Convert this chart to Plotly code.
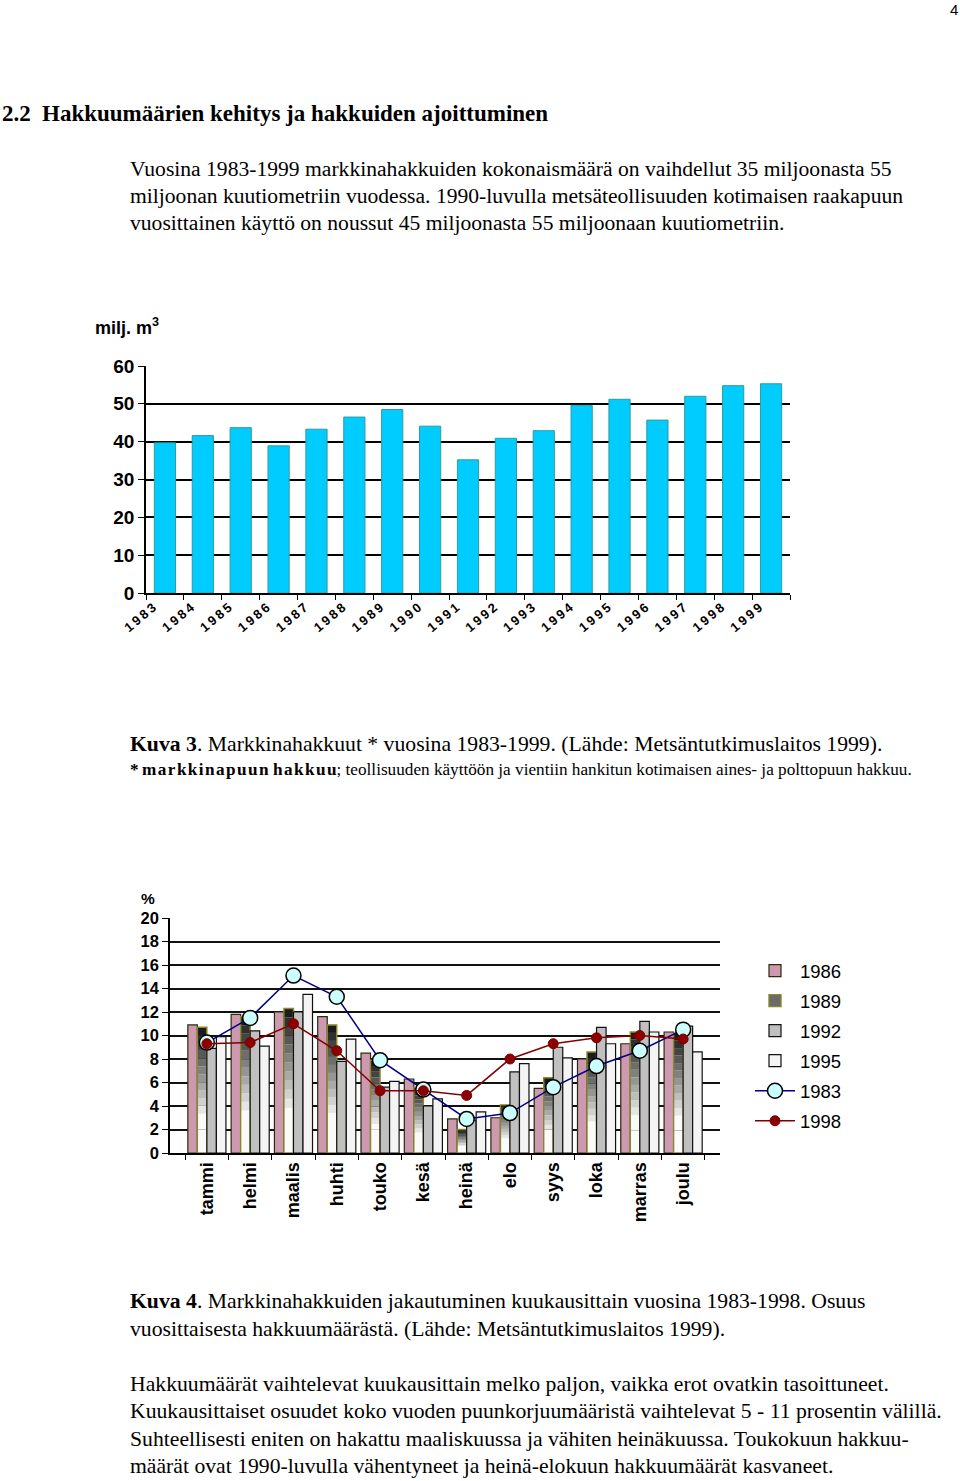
import plotly.graph_objects as go

W, H = 960, 1481

# ---------- data: chart 1 (Kuva 3) ----------
years = [str(y) for y in range(1983, 2000)]
harvest = [39.7, 41.6, 43.7, 38.9, 43.3, 46.5, 48.5, 44.1, 35.2, 40.9,
           42.9, 49.6, 51.2, 45.7, 52.0, 54.8, 55.3]
year_labels = ["\u2009".join(y) for y in years]

# ---------- data: chart 2 (Kuva 4) ----------
months = ["tammi", "helmi", "maalis", "huhti", "touko", "kesä",
          "heinä", "elo", "syys", "loka", "marras", "joulu"]
v1986 = [10.9, 11.8, 12.0, 11.6, 8.5, 6.3, 2.9, 3.0, 5.5, 8.0, 9.3, 10.3]
v1989 = [10.7, 11.6, 12.3, 10.9, 7.9, 5.6, 2.0, 4.1, 6.4, 8.6, 10.3, 10.2]
v1992 = [8.9, 10.4, 12.0, 7.8, 5.6, 4.0, 2.8, 6.9, 9.0, 10.7, 11.2, 10.8]
v1995 = [9.9, 9.1, 13.5, 9.7, 6.1, 4.6, 3.5, 7.6, 8.1, 9.3, 10.3, 8.6]
v1983 = [9.4, 11.5, 15.1, 13.3, 7.9, 5.4, 2.9, 3.4, 5.6, 7.4, 8.7, 10.5]
v1998 = [9.3, 9.4, 11.0, 8.7, 5.3, 5.3, 4.9, 8.0, 9.3, 9.8, 10.0, 9.7]


def px(x):
    return x / W


def py(y):
    return 1 - y / H


fig = go.Figure()

# chart 1
fig.add_trace(go.Bar(
    x=years, y=harvest, xaxis="x", yaxis="y", width=0.56,
    marker=dict(color="#00CCFF", line=dict(color="#2E9C9C", width=1)),
    showlegend=False,
))

# chart 2 bars
fig.add_trace(go.Bar(
    x=months, y=v1986, xaxis="x2", yaxis="y2", name="1986",
    offsetgroup="1986", legendgroup="1986",
    marker=dict(color="#CC99AE", line=dict(color="#2a2a10", width=1.2)),
))

# 1989: gradient (black at top -> white at bottom) built from stacked slices
N = 16
for i in range(N):
    f = (i + 0.5) / N
    t = max(0.0, (f - 0.28) / 0.72)
    lvl = int(round(250 - 232 * t))
    col = f"rgb({lvl},{lvl},{lvl})"
    fig.add_trace(go.Bar(
        x=months, y=[v / N for v in v1989], base=[v * i / N for v in v1989],
        xaxis="x2", yaxis="y2", offsetgroup="1989", legendgroup="1989",
        marker=dict(color=col, line=dict(width=0)), showlegend=False,
        hoverinfo="skip",
    ))
fig.add_trace(go.Bar(
    x=months, y=v1989, xaxis="x2", yaxis="y2", name="1989",
    offsetgroup="1989", legendgroup="1989",
    marker=dict(color="rgba(0,0,0,0)", line=dict(color="#8A8A2A", width=1.4)),
    showlegend=False,
))
fig.add_trace(go.Bar(
    x=months, y=[None] * len(months), xaxis="x2", yaxis="y2", name="1989",
    offsetgroup="1989", legendgroup="1989",
    marker=dict(color="#6a6a6a", line=dict(color="#8A8A2A", width=1.4)),
))

fig.add_trace(go.Bar(
    x=months, y=v1992, xaxis="x2", yaxis="y2", name="1992",
    offsetgroup="1992", legendgroup="1992",
    marker=dict(color="#C0C0C0", line=dict(color="#111111", width=1.2)),
))
fig.add_trace(go.Bar(
    x=months, y=v1995, xaxis="x2", yaxis="y2", name="1995",
    offsetgroup="1995", legendgroup="1995",
    marker=dict(color="#F4F4F4", line=dict(color="#111111", width=1.2)),
))

# chart 2 lines
fig.add_trace(go.Scatter(
    x=months, y=v1983, xaxis="x2", yaxis="y2", name="1983",
    legendgroup="1983", mode="lines+markers",
    line=dict(color="#000080", width=1.5),
    marker=dict(size=15, color="#CCFFFF", line=dict(color="#000000", width=1.5)),
))
fig.add_trace(go.Scatter(
    x=months, y=v1998, xaxis="x2", yaxis="y2", name="1998",
    legendgroup="1998", mode="lines+markers",
    line=dict(color="#800000", width=1.5),
    marker=dict(size=10, color="#8B0000", line=dict(color="#800000", width=1)),
))

sans = "Liberation Sans, Arial, sans-serif"
serif = "Liberation Serif, Times New Roman, serif"

fig.update_layout(
    width=W, height=H,
    margin=dict(l=0, r=0, t=0, b=0, pad=0, autoexpand=False),
    paper_bgcolor="white", plot_bgcolor="white",
    barmode="group", bargap=0.12, bargroupgap=0,
    font=dict(family=sans, color="black"),
    xaxis=dict(
        domain=[px(146), px(790)], anchor="y", type="category",
        automargin=False,
        showline=True, linecolor="black", linewidth=2,
        ticks="outside", tickson="boundaries", ticklen=5, tickcolor="black",
        tickangle=-40, showgrid=False,
        tickmode="array", tickvals=years, ticktext=year_labels,
        tickfont=dict(family=sans, size=13, weight="bold"),
        ticklabelshift=-12,
    ),
    yaxis=dict(
        domain=[py(593), py(366)], anchor="x", range=[0, 60], dtick=10,
        automargin=False,
        showline=True, linecolor="black", linewidth=1.5,
        ticks="outside", ticklen=6, tickcolor="black",
        showgrid=True, gridcolor="black", gridwidth=2, zeroline=False,
        tickfont=dict(family=sans, size=19, weight="bold"),
    ),
    xaxis2=dict(
        domain=[px(170), px(720)], anchor="y2", type="category",
        automargin=False,
        showline=True, linecolor="black", linewidth=2,
        ticks="outside", tickson="boundaries", ticklen=5, tickcolor="black",
        tickangle=-90, showgrid=False,
        tickfont=dict(family=sans, size=18, weight="bold"),
    ),
    yaxis2=dict(
        domain=[py(1153), py(918)], anchor="x2", range=[0, 20], dtick=2,
        automargin=False,
        showline=True, linecolor="black", linewidth=1.5,
        ticks="outside", ticklen=6, tickcolor="black",
        showgrid=True, gridcolor="#111111", gridwidth=1.8, zeroline=False,
        tickfont=dict(family=sans, size=16.5, weight="bold"),
    ),
    legend=dict(
        x=px(750), y=py(952), xanchor="left", yanchor="top",
        font=dict(family=sans, size=18.5), tracegroupgap=3,
        bgcolor="rgba(0,0,0,0)", itemwidth=40,
    ),
)

anns = []
BODY = 21.7


def txt(x, y, s, size=BODY, family=serif, xanchor="left"):
    anns.append(dict(x=px(x), y=py(y), xref="paper", yref="paper", text=s,
                     showarrow=False, xanchor=xanchor, yanchor="middle",
                     borderpad=0,
                     font=dict(family=family, size=size, color="black")))


txt(954, 9, "4", size=15, family=sans, xanchor="center")
txt(1, 114, "<b>2.2</b>", size=23)
txt(41, 114, "<b>Hakkuumäärien kehitys ja hakkuiden ajoittuminen</b>", size=23)

para1 = ["Vuosina 1983-1999 markkinahakkuiden kokonaismäärä on vaihdellut 35 miljoonasta 55",
         "miljoonan kuutiometriin vuodessa. 1990-luvulla metsäteollisuuden kotimaisen raakapuun",
         "vuosittainen käyttö on noussut 45 miljoonasta 55 miljoonaan kuutiometriin."]
for i, s in enumerate(para1):
    txt(129, 169 + 27 * i, s, size=21.6)

txt(94, 327, "<b>milj. m<sup>3</sup></b>", size=18, family=sans)

txt(129, 744, "<b>Kuva 3</b>. Markkinahakkuut * vuosina 1983-1999. (Lähde: Metsäntutkimuslaitos 1999).")
bold_note = "\u2009".join("markkinapuun").replace("\u2009", "\u200a") + " " + \
    "\u200a".join("hakkuu")
txt(129, 769, "<b>*\u2009" + bold_note + "</b>; "
    "teollisuuden käyttöön ja vientiin hankitun kotimaisen aines- ja polttopuun hakkuu.", size=17.2)

txt(140, 898, "<b>%</b>", size=15.5, family=sans)

txt(129, 1301, "<b>Kuva 4</b>. Markkinahakkuiden jakautuminen kuukausittain vuosina 1983-1998. Osuus")
txt(129, 1329, "vuosittaisesta hakkuumäärästä. (Lähde: Metsäntutkimuslaitos 1999).")

para2 = ["Hakkuumäärät vaihtelevat kuukausittain melko paljon, vaikka erot ovatkin tasoittuneet.",
         "Kuukausittaiset osuudet koko vuoden puunkorjuumääristä vaihtelevat 5 - 11 prosentin välillä.",
         "Suhteellisesti eniten on hakattu maaliskuussa ja vähiten heinäkuussa. Toukokuun hakkuu-",
         "määrät ovat 1990-luvulla vähentyneet ja heinä-elokuun hakkuumäärät kasvaneet."]
for i, s in enumerate(para2):
    txt(129, 1384 + 27.3 * i, s)

fig.update_layout(annotations=anns)

fig.write_html(
    "out.html",
    config={"displayModeBar": False},
    post_script="document.body.style.margin='0';document.body.style.overflow='hidden';",
)
